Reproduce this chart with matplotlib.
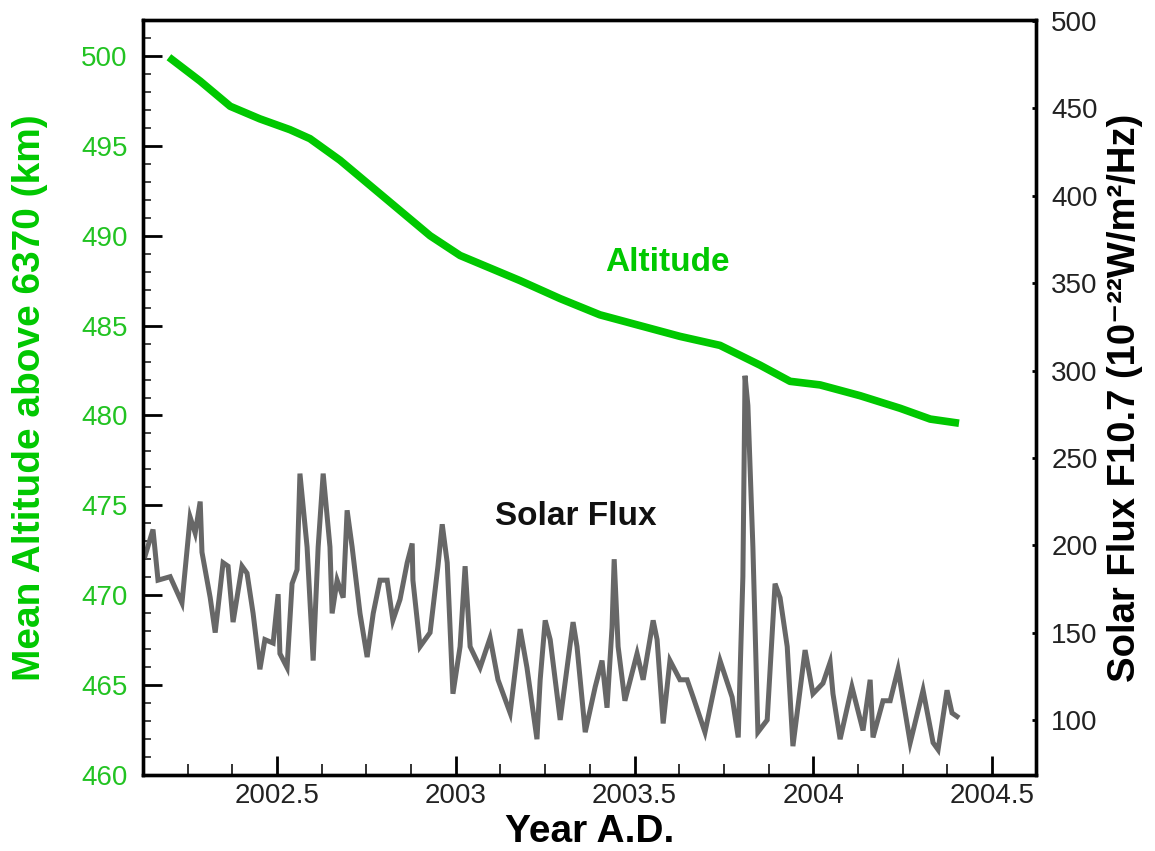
import matplotlib
matplotlib.use("Agg")
import matplotlib.pyplot as plt
from matplotlib.ticker import MultipleLocator, FuncFormatter

plt.rcParams['font.family'] = ['Liberation Sans', 'DejaVu Sans']

# Mean altitude of the satellite (km above 6370 km)
alt_year = [2002.206, 2002.285, 2002.369, 2002.452, 2002.536, 2002.592, 2002.676,
            2002.760, 2002.844, 2002.928, 2003.012, 2003.096, 2003.180, 2003.292,
            2003.403, 2003.515, 2003.627, 2003.739, 2003.851, 2003.935, 2004.019,
            2004.131, 2004.243, 2004.327, 2004.397]
alt_km = [499.8, 498.6, 497.2, 496.5, 495.9, 495.4, 494.2,
          492.8, 491.4, 490.0, 488.9, 488.2, 487.5, 486.5,
          485.6, 485.0, 484.4, 483.9, 482.8, 481.9, 481.7,
          481.1, 480.4, 479.8, 479.6]

# Solar radio flux F10.7 (10^-22 W/m^2/Hz)
flux_year = [2002.131, 2002.153, 2002.167, 2002.201, 2002.234, 2002.257, 2002.271,
             2002.285, 2002.290, 2002.313, 2002.327, 2002.349, 2002.363, 2002.377,
             2002.402, 2002.416, 2002.433, 2002.452, 2002.466, 2002.489, 2002.503,
             2002.508, 2002.528, 2002.542, 2002.556, 2002.564, 2002.584, 2002.601,
             2002.615, 2002.629, 2002.648, 2002.654, 2002.668, 2002.685, 2002.696,
             2002.710, 2002.732, 2002.752, 2002.769, 2002.788, 2002.808, 2002.824,
             2002.844, 2002.864, 2002.878, 2002.880, 2002.900, 2002.928, 2002.950,
             2002.962, 2002.976, 2002.992, 2003.012, 2003.026, 2003.040, 2003.068,
             2003.096, 2003.118, 2003.152, 2003.180, 2003.199, 2003.227, 2003.236,
             2003.250, 2003.264, 2003.292, 2003.328, 2003.339, 2003.362, 2003.390,
             2003.409, 2003.423, 2003.437, 2003.443, 2003.454, 2003.473, 2003.507,
             2003.524, 2003.552, 2003.563, 2003.580, 2003.599, 2003.627, 2003.647,
             2003.664, 2003.697, 2003.739, 2003.773, 2003.790, 2003.803, 2003.809,
             2003.817, 2003.831, 2003.845, 2003.871, 2003.893, 2003.907, 2003.927,
             2003.943, 2003.977, 2003.999, 2004.027, 2004.047, 2004.055, 2004.075,
             2004.108, 2004.139, 2004.159, 2004.167, 2004.195, 2004.215, 2004.237,
             2004.271, 2004.307, 2004.335, 2004.349, 2004.374, 2004.388, 2004.402]
flux_val = [194, 209, 180, 182, 167, 216, 207,
            225, 196, 170, 150, 190, 188, 156,
            188, 184, 161, 129, 146, 144, 172,
            138, 130, 178, 186, 241, 199, 134,
            199, 241, 199, 161, 180, 170, 220,
            199, 161, 136, 161, 180, 180, 157,
            169, 190, 201, 180, 142, 150, 188,
            212, 190, 115, 142, 188, 142, 130,
            147, 123, 104, 152, 130, 89, 123,
            157, 146, 100, 156, 142, 93, 119,
            134, 107, 153, 192, 142, 111, 138,
            123, 157, 146, 98, 134, 123, 123,
            113, 93, 134, 113, 90, 182, 297,
            280, 199, 93, 100, 178, 170, 142,
            85, 140, 115, 121, 133, 115, 89,
            119, 94, 123, 90, 111, 111, 129,
            87, 117, 87, 83, 117, 104, 102]

alt_ticks = [460, 465, 470, 475, 480, 485, 490, 495, 500]
flux_ticks = [100, 150, 200, 250, 300, 350, 400, 450, 500]
year_ticks = [2002.5, 2003, 2003.5, 2004, 2004.5]

GREEN = '#00c800'
TICK_GREEN = '#22c322'
GREY = '#676767'

fig = plt.figure(figsize=(11.55, 8.51), dpi=100)
ax = fig.add_axes([0.1238, 0.0893, 0.7732, 0.8872])
ax2 = ax.twinx()

ax.plot(alt_year, alt_km, color=GREEN, lw=5.5, solid_joinstyle='round', zorder=3)
ax2.plot(flux_year, flux_val, color=GREY, lw=3.6, solid_joinstyle='miter', zorder=2)

ax.set_xlim(2002.125, 2004.623)
ax.set_ylim(460, 502)
ax2.set_ylim(68.5, 500.6)

fmt = FuncFormatter(lambda v, p: '%g' % v)
ax.set_xticks(year_ticks)
ax.xaxis.set_major_formatter(fmt)
ax.xaxis.set_minor_locator(MultipleLocator(0.125))
ax.set_yticks(alt_ticks)
ax.yaxis.set_minor_locator(MultipleLocator(1))
ax2.set_yticks(flux_ticks)

for a in (ax, ax2):
    for s in a.spines.values():
        s.set_linewidth(2.4)
        s.set_color('black')

ax.tick_params(axis='x', which='major', direction='in', length=14, width=2.0,
               labelsize=20, pad=6, top=False, colors='black', labelcolor='#222222')
ax.tick_params(axis='x', which='minor', direction='in', length=8, width=1.4,
               top=False, colors='#333333')
ax.tick_params(axis='y', which='major', direction='in', length=14, width=2.0,
               labelsize=20, pad=11, right=False, colors='black', labelcolor=TICK_GREEN)
ax.tick_params(axis='y', which='minor', direction='in', length=6, width=1.4,
               right=False, colors='#444444')
ax2.tick_params(axis='y', which='major', direction='in', length=3, width=2.0,
                labelsize=20, pad=11, colors='black', labelcolor='#222222')

ax.set_xlabel('Year A.D.', fontsize=28, fontweight='bold')
ax.xaxis.set_label_coords(0.5, -0.052)
ax.set_ylabel('Mean Altitude above 6370 (km)', fontsize=28, fontweight='bold', color=GREEN)
ax.yaxis.set_label_coords(-0.1064, 0.5)
ax2.set_ylabel('Solar Flux F10.7 (10\u207b\u00b2\u00b2W/m\u00b2/Hz)',
               fontsize=27.5, fontweight='bold', color='black', rotation=90)
ax2.yaxis.set_label_coords(1.0795, 0.5)

ax.text(2003.591, 488.5, 'Altitude', color=GREEN, fontsize=24, fontweight='bold',
        ha='center', va='center')
ax2.text(2003.336, 216.2, 'Solar Flux', color='#111111', fontsize=24, fontweight='bold',
         ha='center', va='center')

fig.savefig('out.png', dpi=100)
